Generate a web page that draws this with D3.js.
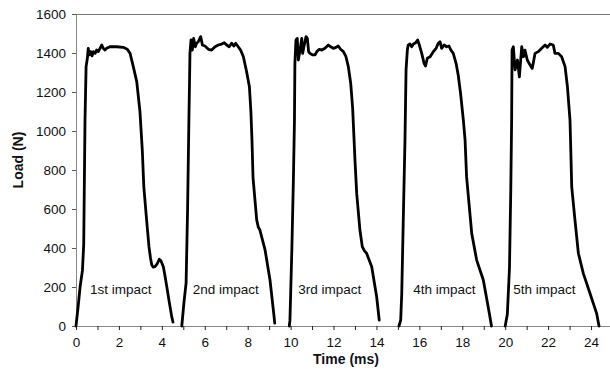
<!DOCTYPE html>
<html>
<head>
<meta charset="utf-8">
<script src="https://cdn.jsdelivr.net/npm/d3@7"></script>
<style>
  html, body { margin: 0; padding: 0; background: #fff; }
  svg { display: block; font-family: "Liberation Sans", Arial, sans-serif; }
</style>
</head>
<body>
<div id="chart"></div>
<script>
const WIDTH = 610
const HEIGHT = 372

// ── Data: load (N) vs time (ms), one array per impact ──────────────────────
const impact1 = [
  [0, 0], [0.1, 100], [0.19, 200], [0.3, 285], [0.36, 420], [0.42, 1056], [0.47, 1330],
  [0.53, 1373], [0.57, 1424], [0.62, 1390], [0.68, 1407], [0.75, 1385], [0.81, 1407],
  [0.89, 1398], [0.96, 1415], [1.04, 1407], [1.12, 1424], [1.2, 1441], [1.27, 1424],
  [1.35, 1415], [1.43, 1424], [1.58, 1432], [1.9, 1432], [2.2, 1429], [2.39, 1419],
  [2.52, 1398], [2.67, 1330], [2.83, 1253], [2.98, 1100], [3.09, 900], [3.16, 714],
  [3.29, 544], [3.4, 407], [3.47, 350], [3.53, 313], [3.6, 302], [3.68, 304], [3.78, 318],
  [3.88, 342], [3.95, 336], [4.02, 318], [4.07, 304], [4.15, 255], [4.23, 202],
  [4.35, 120], [4.46, 48], [4.52, 20]
]
const impact2 = [
  [4.93, 0], [5.03, 120], [5.13, 220], [5.2, 600], [5.26, 1050], [5.29, 1250],
  [5.31, 1398], [5.36, 1467], [5.42, 1415], [5.48, 1475], [5.56, 1432], [5.62, 1450],
  [5.7, 1458], [5.81, 1484], [5.89, 1441], [6.01, 1436], [6.17, 1419], [6.32, 1415],
  [6.48, 1432], [6.63, 1441], [6.79, 1446], [6.91, 1453], [7.02, 1441], [7.14, 1432],
  [7.25, 1450], [7.36, 1436], [7.44, 1450], [7.56, 1432], [7.67, 1415], [7.8, 1381],
  [7.95, 1304], [8.08, 1227], [8.15, 1100], [8.2, 954], [8.25, 760], [8.42, 544],
  [8.49, 509], [8.57, 492], [8.81, 390], [9.04, 236], [9.23, 48], [9.26, 15]
]
const impact3 = [
  [9.94, 0], [9.97, 30], [10.06, 400], [10.13, 750], [10.18, 1056], [10.2, 1347],
  [10.25, 1467], [10.31, 1475], [10.36, 1364], [10.44, 1415], [10.52, 1475], [10.56, 1398],
  [10.62, 1432], [10.72, 1484], [10.78, 1475], [10.84, 1407], [10.9, 1398], [11.03, 1390],
  [11.14, 1390], [11.22, 1407], [11.34, 1419], [11.45, 1415], [11.6, 1424], [11.76, 1441],
  [11.87, 1432], [11.99, 1424], [12.12, 1429], [12.22, 1436], [12.33, 1419], [12.46, 1407],
  [12.58, 1381], [12.69, 1330], [12.8, 1245], [12.89, 1120], [13.0, 850], [13.08, 680],
  [13.23, 492], [13.34, 407], [13.44, 385], [13.54, 373], [13.78, 304], [14.01, 150],
  [14.13, 30]
]
const impact4 = [
  [15.05, 0], [15.13, 30], [15.18, 168], [15.25, 544], [15.33, 954], [15.38, 1313],
  [15.44, 1415], [15.48, 1441], [15.56, 1446], [15.64, 1432], [15.72, 1446], [15.83, 1453],
  [15.92, 1467], [16.0, 1441], [16.11, 1398], [16.22, 1347], [16.29, 1333], [16.37, 1373],
  [16.5, 1381], [16.65, 1407], [16.78, 1424], [16.88, 1450], [16.96, 1458], [17.04, 1424],
  [17.15, 1441], [17.27, 1432], [17.38, 1436], [17.47, 1415], [17.58, 1398], [17.71, 1347],
  [17.81, 1287], [17.92, 1193], [18.05, 1056], [18.13, 954], [18.2, 766], [18.44, 475],
  [18.67, 338], [18.98, 236], [19.26, 65], [19.36, 0]
]
const impact5 = [
  [20.0, 0], [20.1, 60], [20.2, 300], [20.26, 700], [20.3, 1056], [20.32, 1415],
  [20.38, 1432], [20.46, 1313], [20.57, 1364], [20.66, 1278], [20.77, 1432], [20.85, 1381],
  [20.92, 1415], [21.03, 1364], [21.16, 1338], [21.26, 1321], [21.39, 1398], [21.54, 1407],
  [21.7, 1424], [21.86, 1441], [21.96, 1429], [22.09, 1446], [22.24, 1441], [22.32, 1398],
  [22.48, 1398], [22.63, 1381], [22.79, 1330], [22.9, 1227], [23.02, 1056], [23.1, 714],
  [23.25, 544], [23.41, 373], [23.64, 270], [23.95, 168], [24.26, 65], [24.37, 0]
]
const impacts = [impact1, impact2, impact3, impact4, impact5]

const impactLabels = ['1st impact', '2nd impact', '3rd impact', '4th impact', '5th impact']
const labelTimes = [0.65, 5.44, 10.36, 15.72, 20.38]
const labelLoad = 164

const xTicks = d3.range(0, 26, 1)
const yTicks = d3.range(0, 1601, 200)

// ── Scales ──────────────────────────────────────────────────────────────────
const x = d3.scaleLinear().domain([0, 25]).range([76, 612.5])
const y = d3.scaleLinear().domain([0, 1600]).range([326, 14])

const svg = d3.select('#chart').append('svg')
  .attr('width', WIDTH)
  .attr('height', HEIGHT)

// top border of the plot area
svg.append('line')
  .attr('x1', x(0)).attr('x2', x(25))
  .attr('y1', y(1600)).attr('y2', y(1600))
  .attr('stroke', '#777').attr('stroke-width', 1)
  .attr('shape-rendering', 'crispEdges')

// ── Axes ────────────────────────────────────────────────────────────────────
const xAxis = svg.append('g')
  .attr('transform', `translate(0,${y(0)})`)
  .call(d3.axisBottom(x).tickValues(xTicks).tickSize(4).tickPadding(7)
    .tickFormat(d => d % 2 === 0 && d <= 24 ? d : ''))
xAxis.select('.domain').attr('stroke', '#888').attr('shape-rendering', 'crispEdges')
xAxis.selectAll('.tick line').attr('stroke', '#222')
xAxis.selectAll('text').attr('fill', '#111').style('font-size', '13.5px')

const yAxis = svg.append('g')
  .attr('transform', `translate(${x(0)},0)`)
  .call(d3.axisLeft(y).tickValues(yTicks).tickSize(4).tickPadding(6).tickSizeOuter(0)
    .tickFormat(d3.format('d')))
yAxis.select('.domain').attr('stroke', '#888').attr('shape-rendering', 'crispEdges')
yAxis.selectAll('.tick line').attr('stroke', '#555')
yAxis.selectAll('text').attr('fill', '#111').style('font-size', '13.5px')

// ── Axis titles ─────────────────────────────────────────────────────────────
svg.append('text')
  .attr('x', 346).attr('y', 364)
  .attr('text-anchor', 'middle')
  .style('font-size', '14px').style('font-weight', 'bold')
  .attr('fill', '#111')
  .text('Time (ms)')

svg.append('text')
  .attr('transform', 'translate(23,160) rotate(-90)')
  .attr('text-anchor', 'middle')
  .style('font-size', '14px').style('font-weight', 'bold')
  .attr('fill', '#111')
  .text('Load (N)')

// ── Curves ──────────────────────────────────────────────────────────────────
const line = d3.line().x(d => x(d[0])).y(d => y(d[1]))

svg.append('g').selectAll('path')
  .data(impacts)
  .join('path')
  .attr('d', line)
  .attr('fill', 'none')
  .attr('stroke', '#000')
  .attr('stroke-width', 2.8)
  .attr('stroke-linejoin', 'round')
  .attr('stroke-linecap', 'round')

// ── Impact labels ───────────────────────────────────────────────────────────
svg.append('g').selectAll('text')
  .data(impactLabels)
  .join('text')
  .attr('x', (d, i) => x(labelTimes[i]))
  .attr('y', y(labelLoad))
  .style('font-size', '13.5px')
  .attr('fill', '#111')
  .text(d => d)
</script>
</body>
</html>
